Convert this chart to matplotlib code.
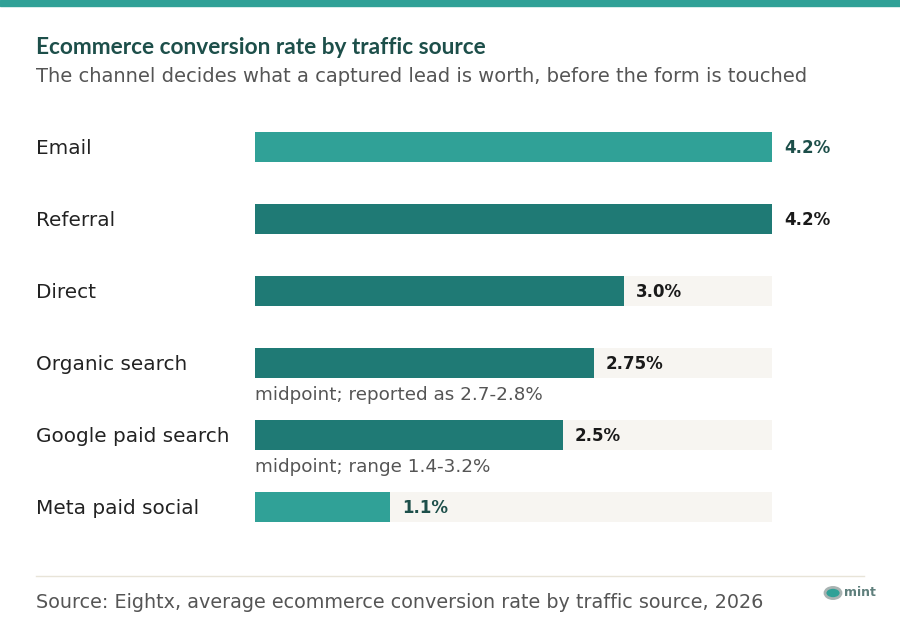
import matplotlib.pyplot as plt
from matplotlib.patches import Circle
import matplotlib.transforms as mtransforms

# data
channels = ["Email", "Referral", "Direct", "Organic search", "Google paid search", "Meta paid social"]
rates = [4.2, 4.2, 3.0, 2.75, 2.5, 1.1]
rate_labels = ["4.2%", "4.2%", "3.0%", "2.75%", "2.5%", "1.1%"]
notes = ["", "", "", "midpoint; reported as 2.7-2.8%", "midpoint; range 1.4-3.2%", ""]
highlight = [True, False, False, False, False, True]
track_max = 4.2

title = "Ecommerce conversion rate by traffic source"
subtitle = "The channel decides what a captured lead is worth, before the form is touched"
source = "Source: Eightx, average ecommerce conversion rate by traffic source, 2026"

LIGHT = "#30a197"
DARK = "#1f7a75"
TRACK = "#f7f5f1"
TITLE_C = "#1d4f4a"
plt.rcParams['font.family'] = ['DejaVu Sans']

W, H = 900, 628
fig = plt.figure(figsize=(W / 100, H / 100), dpi=100)
fig.patch.set_facecolor("white")

def fx(px):
    return px / W

def fy(py):
    return 1 - py / H

# top strip
fig.patches.append(plt.Rectangle((0, fy(6)), 1, 6 / H, transform=fig.transFigure,
                                 color=LIGHT, zorder=0))

fig.text(fx(36), fy(48), title, fontsize=16.3, fontweight="bold", color=TITLE_C,
         va="center", family=["Lato", "DejaVu Sans"])
fig.text(fx(36), fy(77), subtitle, fontsize=14, color="#555555", va="center")

# bars axes: x 0..4.2 -> 255..772 px, rows 72 px apart
ax = fig.add_axes([fx(255), fy(543), fx(772) - fx(255), (543 - 111) / H])
ax.set_xlim(0, track_max)
ax.set_ylim(len(channels) - 0.5, -0.5)
ax.axis("off")

ypos = list(range(len(channels)))
bh = 30 / 72
ax.barh(ypos, [track_max] * len(channels), height=bh, color=TRACK, zorder=1)
colors = [LIGHT if h else DARK for h in highlight]
ax.barh(ypos, rates, height=bh, color=colors, zorder=2)

lab_tr = mtransforms.blended_transform_factory(fig.transFigure, ax.transData)
lab_off = mtransforms.offset_copy(lab_tr, fig=fig, x=0, y=-2, units="dots")
off = mtransforms.offset_copy(ax.transData, fig=fig, x=12, y=-1, units="dots")
note_off = mtransforms.offset_copy(ax.transData, fig=fig, x=0, y=-2, units="dots")
for i, (name, v, lab, note, h) in enumerate(zip(channels, rates, rate_labels, notes, highlight)):
    ax.text(fx(36), i, name, transform=lab_off, fontsize=14.4, color="#222222", va="center")
    ax.text(v, i, lab, transform=off, fontsize=12, fontweight="bold",
            color=TITLE_C if h else "#1a1a1a", va="center", ha="left")
    if note:
        ax.text(0, i + 0.42, note, transform=note_off, fontsize=13.2, color="#555555",
                va="center", ha="left")

# footer
fig.add_artist(plt.Line2D([fx(36), fx(864)], [fy(576), fy(576)], color="#e8e4d8", lw=1))
fig.text(fx(36), fy(603), source, fontsize=13.8, color="#555555", va="center")

# small logo
fig.add_artist(Circle((fx(833), fy(593)), 8 / W, transform=fig.transFigure,
                      facecolor=LIGHT, edgecolor="#a9b3b2", lw=2))
fig.text(fx(844), fy(592), "mint", fontsize=9, color="#5f7f7c", va="center", fontweight="bold")

fig.savefig("out.png", dpi=100)
